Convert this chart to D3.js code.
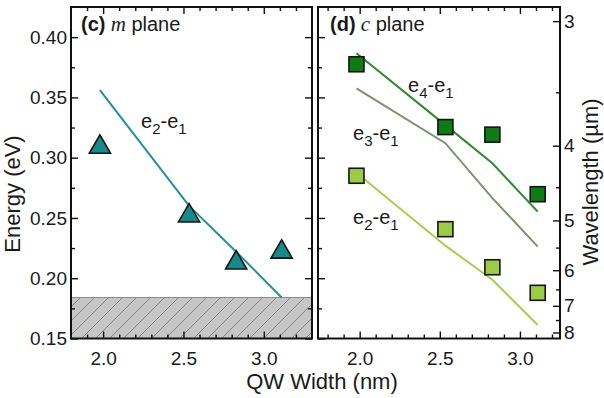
<!DOCTYPE html>
<html><head><meta charset="utf-8">
<script src="https://cdn.jsdelivr.net/npm/d3@7"></script>
<style>
html,body{margin:0;padding:0;background:#fff;}
svg{display:block;font-family:"Liberation Sans",Arial,sans-serif;}
</style></head>
<body><svg id="chart" width="604" height="398"></svg>
<script>
// ---------- data ----------
const qwWidths = [1.98, 2.535, 2.828, 3.111];            // QW width (nm)
const mPlaneMeasured = [0.310, 0.253, 0.214, 0.223];      // triangles (eV)
const mPlaneCalcE21 = [0.356, 0.260, 0.222, 0.184];       // teal line
const cPlaneMeasuredE41 = [0.3775, 0.3254, 0.3191, 0.2697];
const cPlaneCalcE41 = [0.3866, 0.327, 0.2953, 0.2552];
const cPlaneCalcE31 = [0.3575, 0.312, 0.2665, 0.2262];
const cPlaneMeasuredE21 = [0.285, 0.2407, 0.2091, 0.1879];
const cPlaneCalcE21 = [0.2875, 0.227, 0.1987, 0.1612];
const hatchTop = 0.184;
const energyTicks = [0.15, 0.20, 0.25, 0.30, 0.35, 0.40];
const energyMinor = [0.175, 0.225, 0.275, 0.325, 0.375];
const widthTicks = [2.0, 2.5, 3.0];
const widthMinor = d3.range(17, 34).map(d => d / 10);
const wavelengthTicks = [3, 4, 5, 6, 7, 8];
const wavelengthMinor = [3.5, 4.5, 5.5, 6.5, 7.5];
const hc = 1.2398; // eV·µm

// ---------- layout ----------
const svg = d3.select("#chart");
const yTop = 7, yBot = 338.5;
const yE = d3.scaleLinear().domain([0.15, 0.425]).range([yBot, yTop]);
const xL = d3.scaleLinear().domain([1.8, 3.3]).range([71, 312]);
const xR = d3.scaleLinear().domain([1.74, 3.25]).range([318, 560]);
const yW = d3.scalePow().exponent(-1).domain([hc / 0.15, hc / 0.425]).range([yBot, yTop]);

const txt = "#1a1a1a";
const tickFont = 19;

// hatch pattern
const defs = svg.append("defs");
const pat = defs.append("pattern").attr("id", "hatch").attr("patternUnits", "userSpaceOnUse")
  .attr("width", 14).attr("height", 14);
pat.append("rect").attr("width", 14).attr("height", 14).attr("fill", "#c6c6c6");
pat.append("path").attr("d", "M-1,1 l2,-2 M0,14 l14,-14 M13,15 l2,-2")
  .attr("stroke", "#7a7a7a").attr("stroke-width", 0.9);

function styleAxis(g, fs) {
  g.select(".domain").remove();
  g.selectAll("line").attr("stroke", "#111").attr("stroke-width", 1.4);
  g.selectAll("text").attr("fill", txt).attr("font-size", fs)
    .attr("font-family", "'Liberation Sans',Arial,sans-serif");
}

function panel(xs, withLeftLabels) {
  const [x0, x1] = xs.range();
  const inner = widthMinor.filter(v => xs(v) > x0 + 2 && xs(v) < x1 - 2 && !widthTicks.includes(v));
  const gl = svg.append("g").attr("transform", `translate(${x0},0)`)
    .call(d3.axisLeft(yE).tickValues(energyTicks).tickSize(-7).tickPadding(4)
      .tickFormat(withLeftLabels ? d3.format(".2f") : () => ""));
  styleAxis(gl, tickFont);
  const glm = svg.append("g").attr("transform", `translate(${x0},0)`)
    .call(d3.axisLeft(yE).tickValues(energyMinor).tickSize(-4).tickFormat(() => ""));
  styleAxis(glm, tickFont);
  const gb = svg.append("g").attr("transform", `translate(0,${yBot})`)
    .call(d3.axisBottom(xs).tickValues(widthTicks).tickSize(-7).tickPadding(13).tickFormat(d3.format(".1f")));
  styleAxis(gb, tickFont);
  const gbm = svg.append("g").attr("transform", `translate(0,${yBot})`)
    .call(d3.axisBottom(xs).tickValues(inner).tickSize(-4).tickFormat(() => ""));
  styleAxis(gbm, tickFont);
  const gt = svg.append("g").attr("transform", `translate(0,${yTop})`)
    .call(d3.axisTop(xs).tickValues(widthTicks).tickSize(-7).tickFormat(() => ""));
  styleAxis(gt, tickFont);
  const gtm = svg.append("g").attr("transform", `translate(0,${yTop})`)
    .call(d3.axisTop(xs).tickValues(inner).tickSize(-4).tickFormat(() => ""));
  styleAxis(gtm, tickFont);
}

// ---------- left panel (m plane) ----------
svg.append("rect")
  .attr("x", 71).attr("y", yE(hatchTop)).attr("width", 241).attr("height", yBot - yE(hatchTop))
  .attr("fill", "url(#hatch)");
svg.append("line").attr("x1", 71).attr("x2", 312).attr("y1", yE(hatchTop)).attr("y2", yE(hatchTop))
  .attr("stroke", "#8a8a8a").attr("stroke-width", 1.2);

panel(xL, true);
{
  const g = svg.append("g").attr("transform", "translate(312,0)")
    .call(d3.axisRight(yE).tickValues(energyTicks).tickSize(-7).tickFormat(() => ""));
  styleAxis(g, tickFont);
  const g2 = svg.append("g").attr("transform", "translate(312,0)")
    .call(d3.axisRight(yE).tickValues(energyMinor).tickSize(-4).tickFormat(() => ""));
  styleAxis(g2, tickFont);
}

const lineL = d3.line().x((d, i) => xL(qwWidths[i])).y(d => yE(d));
svg.append("path").attr("d", lineL(mPlaneCalcE21)).attr("fill", "none")
  .attr("stroke", "#1f9393").attr("stroke-width", 2);
const tri = d3.symbol().type(d3.symbolTriangle).size(195);
svg.append("g").selectAll("path").data(mPlaneMeasured).join("path")
  .attr("d", tri)
  .attr("transform", (d, i) => `translate(${xL(qwWidths[i])},${yE(d) + 1.5})`)
  .attr("fill", "#178a8a").attr("stroke", "#141414").attr("stroke-width", 1.6);

svg.append("rect").attr("x", 71).attr("y", yTop).attr("width", 241).attr("height", yBot - yTop)
  .attr("fill", "none").attr("stroke", "#111").attr("stroke-width", 2);

// ---------- right panel (c plane) ----------
panel(xR, false);
{
  const g = svg.append("g").attr("transform", "translate(560,0)")
    .call(d3.axisRight(yW).tickValues(wavelengthTicks).tickSize(-7).tickPadding(4).tickFormat(d3.format("d")));
  styleAxis(g, tickFont);
  const g2 = svg.append("g").attr("transform", "translate(560,0)")
    .call(d3.axisRight(yW).tickValues(wavelengthMinor).tickSize(-4).tickFormat(() => ""));
  styleAxis(g2, tickFont);
}
const lineR = d3.line().x((d, i) => xR(qwWidths[i])).y(d => yE(d));
const seriesLines = [
  {v: cPlaneCalcE41, c: "#2b8c2b"},
  {v: cPlaneCalcE31, c: "#7c9270"},
  {v: cPlaneCalcE21, c: "#a6d044"}
];
seriesLines.forEach(s => svg.append("path").attr("d", lineR(s.v)).attr("fill", "none")
  .attr("stroke", s.c).attr("stroke-width", 2));
const sq = 15;
[{v: cPlaneMeasuredE41, c: "#0d7c12"}, {v: cPlaneMeasuredE21, c: "#9ccb45"}].forEach(s => {
  svg.append("g").selectAll("rect").data(s.v).join("rect")
    .attr("x", (d, i) => xR(qwWidths[i]) - sq / 2).attr("y", d => yE(d) - sq / 2)
    .attr("width", sq).attr("height", sq)
    .attr("fill", s.c).attr("stroke", "#141414").attr("stroke-width", 1.6);
});
svg.append("rect").attr("x", 318).attr("y", yTop).attr("width", 242).attr("height", yBot - yTop)
  .attr("fill", "none").attr("stroke", "#111").attr("stroke-width", 2);

// ---------- text ----------
function transLabel(x, y, a, b) {
  const t = svg.append("text").attr("x", x).attr("y", y).attr("fill", txt).attr("font-size", 20);
  t.append("tspan").text("e");
  t.append("tspan").attr("dy", 6).attr("font-size", 15).text(a);
  t.append("tspan").attr("dy", -6).text("-e");
  t.append("tspan").attr("dy", 6).attr("font-size", 15).text(b);
}
transLabel(141, 128, "2", "1");
transLabel(408, 92, "4", "1");
transLabel(353, 140, "3", "1");
transLabel(353, 224, "2", "1");

function panelLabel(x, letter, plane) {
  const t = svg.append("text").attr("x", x).attr("y", 31).attr("fill", txt).attr("font-size", 20);
  t.append("tspan").attr("font-weight", "bold").text(`(${letter})`);
  t.append("tspan").attr("font-family", "'Liberation Serif','Times New Roman',serif")
    .attr("font-style", "italic").attr("font-size", 21).text(" " + plane);
  t.append("tspan").text(" plane");
}
panelLabel(81, "c", "m");
panelLabel(330, "d", "c");

svg.append("text").attr("transform", "translate(20,194) rotate(-90)").attr("text-anchor", "middle")
  .attr("fill", txt).attr("font-size", 22).text("Energy (eV)");
svg.append("text").attr("transform", "translate(598,182) rotate(-90)").attr("text-anchor", "middle")
  .attr("fill", txt).attr("font-size", 22).text("Wavelength (µm)");
svg.append("text").attr("x", 322).attr("y", 389).attr("text-anchor", "middle")
  .attr("fill", txt).attr("font-size", 22).text("QW Width (nm)");
</script></body></html>
